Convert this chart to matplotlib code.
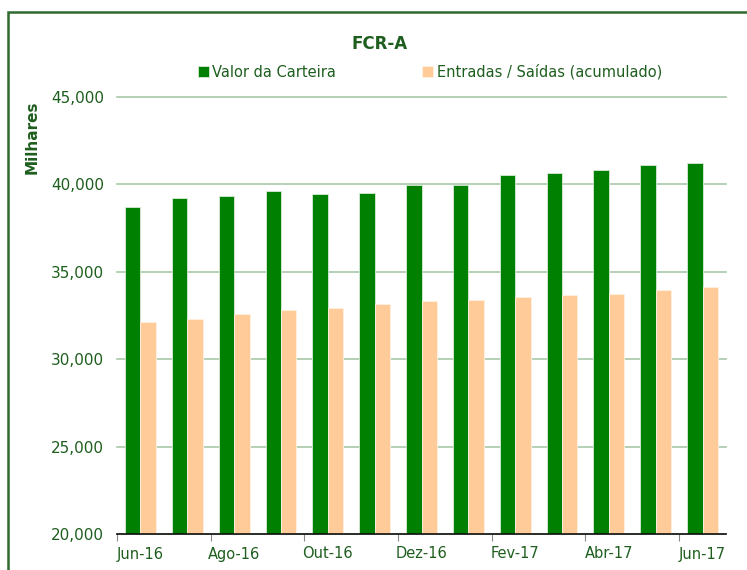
import matplotlib
matplotlib.use("Agg")
import matplotlib.pyplot as plt
import numpy as np
from matplotlib.patches import Rectangle

categories = ["Jun-16", "Jul-16", "Ago-16", "Set-16", "Out-16", "Nov-16", "Dez-16",
              "Jan-17", "Fev-17", "Mar-17", "Abr-17", "Mai-17", "Jun-17"]
valor_carteira = [38707, 39205, 39319, 39622, 39468, 39508, 39948,
                  39966, 40538, 40652, 40807, 41110, 41241]
entradas_saidas = [32146, 32317, 32569, 32815, 32946, 33158, 33347,
                   33370, 33541, 33690, 33730, 33942, 34148]
yticks = [20000, 25000, 30000, 35000, 40000, 45000]

GREEN = "#008000"
PEACH = "#FFCC99"
TXT = "#1E5E1E"
BORDER = "#2E6B2E"

plt.rcParams['font.family'] = ['DejaVu Sans']
fig = plt.figure(figsize=(7.47, 5.70), dpi=100)
fig.patches.append(Rectangle((8/747, -0.1), 1.2, 1 - 12/570 + 0.1, transform=fig.transFigure,
                             fill=False, edgecolor=BORDER, linewidth=1.8))

ax = fig.add_axes([117/747, 1 - 534/570, (726-117)/747, (534-97)/570])
x = np.arange(len(categories))
w = 0.33
ax.bar(x - w/2, [v - 20000 for v in valor_carteira], w, bottom=20000, color=GREEN,
       edgecolor="#d8ecd8", linewidth=0.6, label="Valor da Carteira", zorder=3)
ax.bar(x + w/2, [v - 20000 for v in entradas_saidas], w, bottom=20000, color=PEACH,
       edgecolor="#fff0e0", linewidth=0.6, label="Entradas / Saídas (acumulado)", zorder=3)

ax.set_xlim(-0.5, len(categories) - 0.5)
ax.set_ylim(20000, 45000)
ax.set_yticks(yticks)
ax.set_yticklabels([f"{t:,}" for t in yticks], color=TXT, fontsize=11)
ax.tick_params(axis='y', length=0, pad=9.5)
ax.yaxis.grid(True, color="#A9C8A9", linewidth=1.2, zorder=0)
for gl in ax.get_ygridlines():
    gl.set_clip_on(False)

ax.set_xticks(np.arange(0, len(categories), 2) - 0.5)
ax.set_xticklabels([])
ax.tick_params(axis='x', which='major', length=5, color="#888888", direction='out')
ax.set_xticks(np.arange(0, len(categories), 2), minor=True)
ax.set_xticklabels(categories[::2], minor=True, color=TXT, fontsize=10.5)
ax.tick_params(axis='x', which='minor', length=0, pad=9)

for s in ["top", "right", "left"]:
    ax.spines[s].set_visible(False)
ax.spines["bottom"].set_color("#111111")
ax.spines["bottom"].set_linewidth(1.2)
ax.spines["bottom"].set_zorder(4)

fig.text(380/747, 1 - 44/570, "FCR-A", ha="center", va="center", fontsize=12,
         fontweight="bold", color=TXT)
fig.text(32/747, 1 - 137/570, "Milhares", ha="center", va="center", rotation=90,
         fontsize=11, fontweight="bold", color=TXT)

leg = fig.legend(loc="center", bbox_to_anchor=(430/747, 1 - 72/570), ncol=2, frameon=False,
                 fontsize=10.5, handlelength=0.75, handleheight=0.75, handletextpad=0.25,
                 columnspacing=5.9, labelcolor=TXT)

fig.savefig("out.png", dpi=100)
